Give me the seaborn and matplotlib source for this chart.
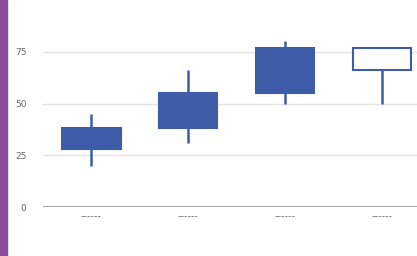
import matplotlib
matplotlib.use("Agg")
import matplotlib.pyplot as plt
import matplotlib.patches as mpatches
import seaborn as sns
import numpy as np

# Données (low, open, close, high)
days = ["Mon", "Tue", "Wed", "Thu"]
low = [20, 31, 50, 77]
open_ = [28, 38, 55, 77]
close = [38, 55, 77, 66]
high = [45, 66, 80, 50]
tick_labels = ["------", "------", "------", "------"]

blue = "#3f5ca8"

sns.set_theme(style="white")
plt.rcParams['font.family'] = ['DejaVu Sans']

fig = plt.figure(figsize=(4.17, 2.56), dpi=100)
ax = fig.add_axes([0.103, 0.191, 0.93, 0.809])

x = np.arange(len(days))
# Mèches
ax.vlines(x, np.minimum(low, high), np.maximum(low, high), color=blue, lw=1.8, zorder=2)
# Corps des bougies
bottoms = np.minimum(open_, close)
heights = np.abs(np.array(close) - np.array(open_))
faces = [blue if c > o else "white" for o, c in zip(open_, close)]
ax.bar(x, heights, bottom=bottoms, width=0.6, color=faces, edgecolor=blue,
       linewidth=1.5, zorder=3)

ax.set_xlim(-0.5, len(days) - 0.5)
ax.set_ylim(0, 100)
ax.set_yticks([0, 25, 50, 75])
ax.yaxis.grid(True, color="#e4e4e4", lw=1)
ax.set_axisbelow(True)
ax.axhline(0, color="#9a9a9a", lw=2, zorder=4)
for s in ax.spines.values():
    s.set_visible(False)
ax.set_xticks(x)
ax.set_xticklabels(tick_labels, fontsize=7, color="#7a7a7a")
ax.tick_params(axis="y", labelsize=6.5, colors="#666666", length=0, pad=12)
ax.tick_params(axis="x", length=0, pad=3)

# Barre violette à gauche
fig.patches.append(mpatches.Rectangle((0, 0), 7 / 417, 1, transform=fig.transFigure,
                                      color="#8a4d9e", zorder=10))

fig.savefig("out.png", dpi=100)
